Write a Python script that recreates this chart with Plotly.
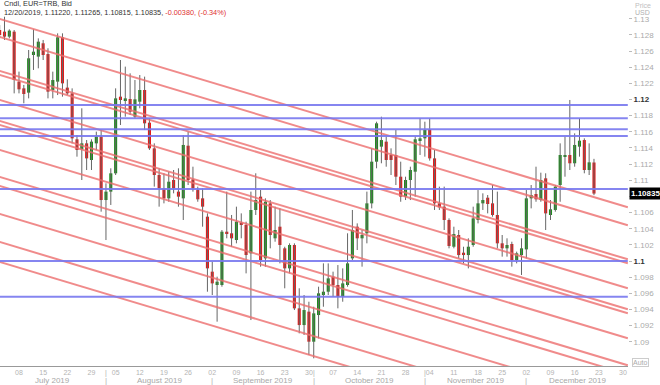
import pandas as pd
import plotly.graph_objects as go

# ---------------- data ----------------
# trading-day calendar (index 0 = 2019-07-01)
bdays = pd.bdate_range("2019-07-01", "2019-12-31")

opens = [1.12860, 1.12840, 1.12778, 1.12840, 1.12221, 1.12138, 1.12085, 1.12551, 1.12531, 1.12696,
         1.12563, 1.12118, 1.12221, 1.12770, 1.12147, 1.12076, 1.11507, 1.11383, 1.11457, 1.11251,
         1.11457, 1.11540, 1.10755, 1.10859, 1.11086, 1.12035, 1.11981, 1.12006, 1.11787, 1.11973,
         1.12118, 1.11713, 1.11395, 1.11065, 1.10900, 1.10776, 1.11003, 1.10859, 1.10776, 1.11428,
         1.11011, 1.10879, 1.10776, 1.10549, 1.09868, 1.09703, 1.09703, 1.10363, 1.10343, 1.10260,
         1.10475, 1.10446, 1.10095, 1.10632, 1.10797, 1.10033, 1.10714, 1.10281, 1.10425, 1.10157,
         1.09909, 1.10198, 1.09414, 1.09207, 1.09373, 1.09001, 1.09331, 1.09579, 1.09620, 1.09806,
         1.09703, 1.09558, 1.09703, 1.10033, 1.10425, 1.10281, 1.10343, 1.10714, 1.11230, 1.11416,
         1.11478, 1.11313, 1.11313, 1.11044, 1.10797, 1.11003, 1.11106, 1.11498, 1.11519, 1.11630,
         1.11271, 1.10714, 1.10673, 1.10508, 1.10177, 1.10322, 1.10103, 1.10074, 1.10198, 1.10508,
         1.10714, 1.10784, 1.10714, 1.10570, 1.10219, 1.10157, 1.10211, 1.10012, 1.10074, 1.10144,
         1.10776, 1.10830, 1.10755, 1.11024, 1.10570, 1.10632, 1.10941, 1.11292, 1.11313, 1.11210,
         1.11416, 1.11498, 1.11127, 1.11220]
highs = [1.12922, 1.13025, 1.12869, 1.12860, 1.12345, 1.12180, 1.12613, 1.12869, 1.12757, 1.12737,
         1.12634, 1.12345, 1.12819, 1.12819, 1.12250, 1.12138, 1.11560, 1.11891, 1.11498, 1.11507,
         1.11602, 1.11622, 1.10962, 1.11148, 1.12138, 1.12489, 1.12407, 1.12324, 1.12241, 1.12303,
         1.12283, 1.11767, 1.11457, 1.11148, 1.11086, 1.11106, 1.11127, 1.11148, 1.11560, 1.11602,
         1.11168, 1.10921, 1.10900, 1.10590, 1.09992, 1.09806, 1.10384, 1.10859, 1.10570, 1.10673,
         1.10590, 1.10487, 1.10859, 1.11086, 1.10879, 1.10776, 1.10755, 1.10673, 1.10652, 1.10177,
         1.10219, 1.10219, 1.09662, 1.09579, 1.09496, 1.09434, 1.09682, 1.09971, 1.09971, 1.09868,
         1.09950, 1.09909, 1.10343, 1.10632, 1.10466, 1.10384, 1.10859, 1.11395, 1.11725, 1.11787,
         1.11540, 1.11395, 1.11622, 1.11230, 1.11044, 1.11168, 1.11540, 1.11767, 1.11725, 1.11767,
         1.11375, 1.10921, 1.10921, 1.10528, 1.10425, 1.10384, 1.10177, 1.10281, 1.10673, 1.10879,
         1.10838, 1.10817, 1.10941, 1.10859, 1.10322, 1.10281, 1.10239, 1.10116, 1.10281, 1.10879,
         1.10941, 1.11168, 1.11094, 1.11086, 1.10755, 1.10941, 1.11457, 1.11540, 1.11994, 1.11581,
         1.11767, 1.11519, 1.11457, 1.11265]
lows = [1.12757, 1.12737, 1.12757, 1.12076, 1.12076, 1.11953, 1.12014, 1.12366, 1.12386, 1.12489,
        1.12014, 1.12014, 1.12055, 1.12035, 1.12055, 1.11457, 1.11292, 1.11003, 1.11127, 1.11127,
        1.11375, 1.10611, 1.10260, 1.10694, 1.11065, 1.11684, 1.11787, 1.11808, 1.11767, 1.11891,
        1.11622, 1.11375, 1.10921, 1.10673, 1.10714, 1.10734, 1.10838, 1.10673, 1.10508, 1.10941,
        1.10859, 1.10734, 1.10425, 1.09620, 1.09579, 1.09249, 1.09682, 1.10281, 1.10177, 1.10219,
        1.10281, 1.09847, 1.09269, 1.10570, 1.09930, 1.09930, 1.10157, 1.10239, 1.09971, 1.09662,
        1.09847, 1.09393, 1.09104, 1.09084, 1.08836, 1.08795, 1.09042, 1.09434, 1.09579, 1.09558,
        1.09414, 1.09496, 1.09682, 1.10012, 1.10136, 1.09930, 1.10219, 1.10652, 1.11148, 1.11210,
        1.11168, 1.11065, 1.10941, 1.10734, 1.10755, 1.10755, 1.10797, 1.11313, 1.11292, 1.11243,
        1.10632, 1.10632, 1.10384, 1.10157, 1.10157, 1.10033, 1.09971, 1.09909, 1.10177, 1.10466,
        1.10632, 1.10590, 1.10549, 1.10157, 1.10054, 1.10054, 1.09930, 1.09971, 1.09827, 1.10033,
        1.10652, 1.10734, 1.10734, 1.10384, 1.10508, 1.10611, 1.10734, 1.11044, 1.11127, 1.11168,
        1.11292, 1.11086, 1.11065, 1.10815]
closes = [1.12799, 1.12778, 1.12853, 1.12241, 1.12126, 1.12068, 1.12510, 1.12592, 1.12716, 1.12551,
          1.12097, 1.12241, 1.12770, 1.12200, 1.12076, 1.11519, 1.11375, 1.11457, 1.11271, 1.11478,
          1.11540, 1.10755, 1.10859, 1.11086, 1.12014, 1.11994, 1.12014, 1.11849, 1.12002, 1.12118,
          1.11705, 1.11395, 1.11065, 1.10900, 1.10776, 1.10982, 1.10900, 1.10797, 1.11437, 1.11003,
          1.10900, 1.10764, 1.10673, 1.09909, 1.09723, 1.09744, 1.10363, 1.10343, 1.10281, 1.10487,
          1.10446, 1.10074, 1.10632, 1.10755, 1.10012, 1.10734, 1.10322, 1.10384, 1.10198, 1.09909,
          1.10198, 1.09414, 1.09207, 1.09393, 1.09001, 1.09352, 1.09600, 1.09620, 1.09785, 1.09703,
          1.09558, 1.09723, 1.09971, 1.10384, 1.10281, 1.10322, 1.10714, 1.11230, 1.11705, 1.11498,
          1.11251, 1.11251, 1.11044, 1.10797, 1.11003, 1.11127, 1.11507, 1.11519, 1.11622, 1.11271,
          1.10714, 1.10665, 1.10508, 1.10186, 1.10334, 1.10074, 1.10074, 1.10177, 1.10528, 1.10714,
          1.10755, 1.10706, 1.10570, 1.10219, 1.10157, 1.10198, 1.10012, 1.10095, 1.10157, 1.10776,
          1.10817, 1.10764, 1.11003, 1.10590, 1.10640, 1.10921, 1.11313, 1.11313, 1.11210, 1.11437,
          1.11490, 1.11127, 1.11222, 1.10835]

first_candle = 1  # 2019-07-02
candle_idx = list(range(first_candle, first_candle + len(closes)))

# horizontal support / resistance levels (blue)
levels = [1.11932, 1.11767, 1.11631, 1.11548, 1.10892, 1.10000, 1.09558]

# parallel down-sloping channel lines (red): price at 2019-07-01 and 2019-12-31
channel_start = [1.13016, 1.12793, 1.12372, 1.12323, 1.12013, 1.11753, 1.11703, 1.11394,
                 1.11059, 1.10948, 1.10601, 1.10254, 1.10007]
channel_end = [1.10665, 1.10442, 1.10021, 1.09972, 1.09662, 1.09402, 1.09352, 1.09043,
               1.08708, 1.08597, 1.08250, 1.07903, 1.07656]

prev_close = 1.11215

# y tick values
ytick_vals = [round(1.09 + 0.002 * k, 3) for k in range(21)]

# ---------------- figure ----------------
GREEN = "#1f8a1f"
RED = "#e31a1a"
X0, X1 = 1.07, 131.04

fig = go.Figure()

# wicks
wx, wy = [], []
for i, h, l in zip(candle_idx, highs, lows):
    wx += [i, i, None]
    wy += [l, h, None]
fig.add_trace(go.Scatter(x=wx, y=wy, mode="lines", line=dict(color="#666", width=1),
                         hoverinfo="skip"))

# bodies
base = [min(o, c) for o, c in zip(opens, closes)]
height = [max(abs(c - o), 0.00007) for o, c in zip(opens, closes)]
cols = [GREEN if c >= o else RED for o, c in zip(opens, closes)]
fig.add_trace(go.Bar(x=candle_idx, y=height, base=base, width=0.64,
                     marker=dict(color=cols, line=dict(width=0))))

# channel lines
for s, e in zip(channel_start, channel_end):
    fig.add_trace(go.Scatter(x=[0, len(bdays) - 1], y=[s, e], mode="lines",
                             line=dict(color="rgba(236,110,110,0.8)", width=2), hoverinfo="skip"))

# horizontal levels
for lv in levels:
    fig.add_trace(go.Scatter(x=[0, len(bdays) - 1], y=[lv, lv], mode="lines",
                             line=dict(color="rgba(120,120,238,0.9)", width=2), hoverinfo="skip"))

# x ticks: Mondays
mondays = [i for i, d in enumerate(bdays) if d.weekday() == 0 and X0 <= i <= X1]
xtext = [bdays[i].strftime("%d") for i in mondays]

last = len(closes) - 1

# y tick labels (the one under the last-price box is hidden, as in the source)
ytext = []
for v in ytick_vals:
    s = f"{v:.3f}".rstrip("0").rstrip(".")
    if abs(v - closes[last]) < 0.001:
        s = ""
    elif s in ("1.12", "1.1"):
        s = f"<span style='color:#333'><b>{s}</b></span>"
    ytext.append(s)

fig.update_layout(
    width=660, height=385,
    margin=dict(l=0, r=32, t=0, b=19),
    paper_bgcolor="white", plot_bgcolor="white",
    showlegend=False, barmode="overlay",
    font=dict(family="Liberation Sans", size=8, color="#999"),
)
fig.update_xaxes(range=[X0, X1], tickmode="array", tickvals=mondays, ticktext=xtext,
                 showgrid=False, zeroline=False, showline=True, linecolor="#999", linewidth=1,
                 ticks="", tickfont=dict(size=7, color="#b4b4b4"))
fig.update_yaxes(side="right", range=[1.08700, 1.13232], tickmode="array",
                 tickvals=ytick_vals, ticktext=ytext, showgrid=False, zeroline=False,
                 ticks="outside", ticklen=3, tickcolor="#bbb",
                 tickfont=dict(size=8, color="#aaa"))

ann = []
# header
chg = closes[last] - prev_close
pct = chg / prev_close * 100
date_s = bdays[candle_idx[last]].strftime("%m/%d/%Y")
ann.append(dict(xref="paper", yref="paper", x=0, y=1, xanchor="left", yanchor="top",
                xshift=2, yshift=3, showarrow=False, align="left",
                text="Cndl, EUR=TRB, Bid", font=dict(size=7.3, color="#333")))
ann.append(dict(xref="paper", yref="paper", x=0, y=1, xanchor="left", yanchor="top",
                xshift=2, yshift=-6, showarrow=False, align="left",
                text=(f"{date_s}, {opens[last]:.5f}, {highs[last]:.5f}, {lows[last]:.5f}, "
                      f"{closes[last]:.5f}, <span style='color:#e03030'>{chg:.5f}, ({pct:.2f}%)</span>"),
                font=dict(size=7.3, color="#333")))
# price / currency header on right
ann.append(dict(xref="paper", yref="paper", x=1, y=1, xanchor="left", yanchor="top",
                xshift=5, yshift=0, showarrow=False, text="Price", font=dict(size=7, color="#c0c0c0")))
ann.append(dict(xref="paper", yref="paper", x=1, y=1, xanchor="left", yanchor="top",
                xshift=5, yshift=-7, showarrow=False, text="USD", font=dict(size=7, color="#b0b0b0")))
# last price label
ann.append(dict(xref="paper", yref="y", x=1, y=closes[last], xanchor="left", yanchor="middle",
                xshift=1, showarrow=False, text=f"<b>{closes[last]:.5f}</b>", bgcolor="black",
                borderpad=1, font=dict(size=8, color="white")))
# Auto box
ann.append(dict(xref="paper", yref="paper", x=1, y=0, xanchor="left", yanchor="bottom",
                xshift=4, yshift=-1, showarrow=False, text="Auto", bordercolor="#ccc",
                borderwidth=1, borderpad=0, font=dict(size=7, color="#aaa")))

# month labels and separators
month_starts = []
prev_m = None
for i, d in enumerate(bdays):
    if d.month != prev_m:
        month_starts.append(i)
        prev_m = d.month
month_starts.append(len(bdays))
for k in range(len(month_starts) - 1):
    a, b = month_starts[k], month_starts[k + 1]
    lo, hi = max(a, X0), min(b, X1)
    ann.append(dict(xref="x", yref="paper", x=(lo + hi) / 2, y=0, yanchor="top", yshift=-8,
                    showarrow=False, text=bdays[a].strftime("%B %Y"),
                    font=dict(size=8, color="#a8a8a8")))
    if a > X0:
        ann.append(dict(xref="x", yref="paper", x=a, y=0, yanchor="top", yshift=-8,
                        showarrow=False, text="|", font=dict(size=8, color="#b0b0b0")))
        if bdays[a].weekday() != 0:
            ann.append(dict(xref="x", yref="paper", x=a, y=0, yanchor="top", yshift=-1,
                            showarrow=False, text="|", font=dict(size=7, color="#b0b0b0")))

fig.update_layout(annotations=ann)
fig.write_html("out.html")
